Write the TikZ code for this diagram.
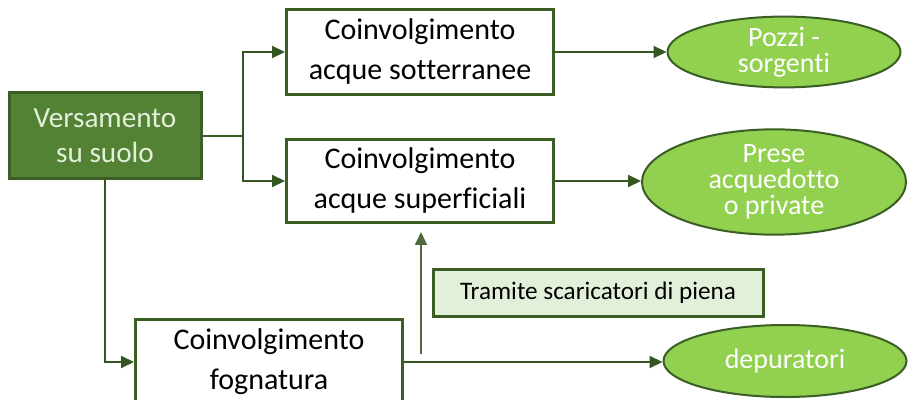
\documentclass[tikz,border=0pt]{standalone}
\usepackage{fontspec}
\setmainfont{Carlito}[Ligatures=NoCommon]
\usetikzlibrary{arrows.meta,shapes.geometric}
\definecolor{dkgreen}{HTML}{548235}
\definecolor{edgegreen}{HTML}{3B5E25}
\definecolor{palegreen}{HTML}{E2F0D9}
\definecolor{lightgreen}{HTML}{92D050}
\tikzset{
  box/.style={draw=edgegreen, line width=1.5pt, fill=white, align=center,
    minimum width=133.5pt, minimum height=42.5pt, inner sep=0pt,
    font=\fontsize{15}{20}\selectfont},
  mainbox/.style={box, fill=dkgreen, text=palegreen, minimum width=96pt,
    minimum height=43pt, font=\fontsize{14.6}{17.5}\selectfont},
  target/.style={ellipse, draw=edgegreen, line width=1pt, fill=lightgreen,
    text=white, align=center, inner sep=0pt,
    font=\fontsize{14}{13}\selectfont},
  notebox/.style={draw=edgegreen, line width=1.5pt, fill=palegreen,
    minimum width=165pt, minimum height=23.5pt, inner sep=0pt,
    font=\fontsize{12.6}{14}\selectfont},
  flow/.style={draw=edgegreen!90!black, line width=1pt,
    -{Triangle[length=6.5pt, width=6pt]}}
}
\begin{document}
\begin{tikzpicture}[x=0.5pt, y=-0.5pt]
  \useasboundingbox (0,0) rectangle (908,400);
  \clip (0,0) rectangle (908,400);
  \node[mainbox] (vers) at (105,136) {Versamento\\su suolo};
  \node[box] (sott) at (420,52) {Coinvolgimento\\acque sotterranee};
  \node[box, minimum height=41.5pt] (sup) at (420,181) {Coinvolgimento\\acque superficiali};
  \node[box] (fogn) at (269,362) {Coinvolgimento\\fognatura};
  \node[target, minimum width=116.5pt, minimum height=35pt] (pozzi) at (784,52) {Pozzi -\\sorgenti};
  \node[target, minimum width=132pt, minimum height=45pt] (prese) at (774,182) {Prese\\acquedotto\\o private};
  \node[target, minimum width=121.5pt, minimum height=36pt] (dep) at (785,361) {depuratori};
  \node[notebox] (tram) at (598,293) {Tramite scaricatori di piena};
  % branching
  \coordinate (fork) at (243,136);
  \draw[edgegreen, line width=1pt] (vers.east) -- (fork);
  \draw[flow] (fork) |- (sott.west);
  \draw[flow] (fork) |- (sup.west);
  \draw[flow] (vers.south) |- (fogn.west);
  % outputs
  \draw[flow] (sott.east) -- (sott.east -| pozzi.west);
  \draw[flow] (sup.east) -- (sup.east -| prese.west);
  \draw[flow] (fogn.east) -- (fogn.east -| dep.west);
  % overflow
  \coordinate (ovA) at (421,354);
  \coordinate (ovB) at (421,232);
  \draw[flow, draw=edgegreen!70!gray, line width=0.8pt] (ovA) -- (ovB);
\end{tikzpicture}
\end{document}
